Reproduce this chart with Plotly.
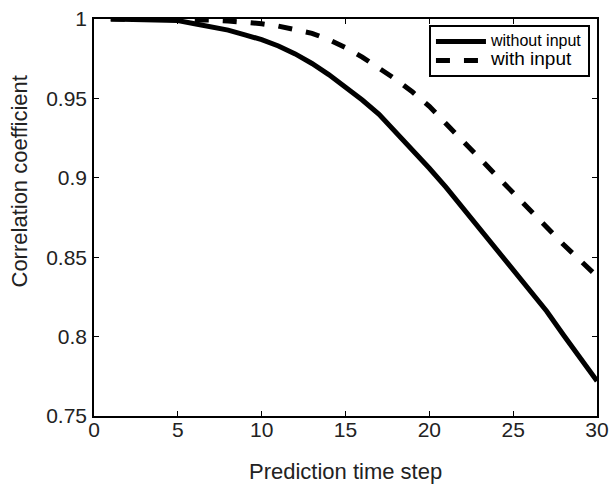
import plotly.graph_objects as go

steps = list(range(1, 31))
without_input = [1.0, 0.9999, 0.9998, 0.9995, 0.999, 0.997, 0.995, 0.993, 0.990, 0.987,
                 0.983, 0.978, 0.972, 0.965, 0.957, 0.949, 0.940, 0.929, 0.918, 0.906,
                 0.894, 0.881, 0.868, 0.854, 0.841, 0.829, 0.816, 0.801, 0.787, 0.772]
with_input = [1.0, 1.0, 0.9999, 0.9998, 0.9997, 0.9995, 0.9993, 0.9988, 0.998, 0.997,
              0.9955, 0.9935, 0.991, 0.987, 0.982, 0.976, 0.969, 0.962, 0.954, 0.945,
              0.934, 0.923, 0.912, 0.901, 0.890, 0.879, 0.868, 0.858, 0.848, 0.838]

x_ticks = [0, 5, 10, 15, 20, 25, 30]
y_ticks = [0.75, 0.8, 0.85, 0.9, 0.95, 1.0]
y_tick_labels = ["0.75", "0.8", "0.85", "0.9", "0.95", "1"]

FONT = "Liberation Sans, Arial, Helvetica, sans-serif"

fig = go.Figure()
fig.add_trace(go.Scatter(
    x=steps, y=without_input, mode="lines",
    name='<span style="font-size:16px">without input</span>',
    line=dict(color="black", width=5),
))
fig.add_trace(go.Scatter(
    x=steps, y=with_input, mode="lines",
    name='<span style="font-size:19px">with input</span>',
    line=dict(color="black", width=5, dash="14px,14px"),
))

axis_common = dict(
    showgrid=False, zeroline=False, showline=True, linecolor="black", linewidth=1.5,
    mirror="allticks", ticks="inside", ticklen=5, tickwidth=1, tickcolor="black",
    tickfont=dict(family=FONT, size=21, color="#222"),
)
fig.update_xaxes(range=[0, 30], tickvals=x_ticks, ticklabelstandoff=-6, **axis_common)
fig.update_yaxes(range=[0.75, 1.0], tickvals=y_ticks, ticktext=y_tick_labels,
                 ticklabelstandoff=1, **axis_common)

fig.update_layout(
    width=612, height=486,
    margin=dict(l=94, r=15, t=19, b=70, pad=0, autoexpand=False),
    paper_bgcolor="white", plot_bgcolor="white",
    showlegend=True,
    legend=dict(
        x=0.986, y=0.985, xanchor="right", yanchor="top",
        bgcolor="white", bordercolor="black", borderwidth=2,
        font=dict(family=FONT, size=11, color="black"),
        itemwidth=50, tracegroupgap=0,
    ),
    annotations=[
        dict(text="Correlation coefficient", textangle=-90, showarrow=False,
             xref="paper", yref="paper", x=(19 - 94) / 503, y=(416 - 181.5) / 397,
             xanchor="center", yanchor="middle",
             font=dict(family=FONT, size=22, color="#222")),
        dict(text="Prediction time step", showarrow=False,
             xref="paper", yref="paper", x=0.5, y=(416 - 471) / 397,
             xanchor="center", yanchor="middle",
             font=dict(family=FONT, size=22, color="#222")),
    ],
)

fig.write_html(
    "out.html",
    config={"displayModeBar": False},
    post_script="document.body.style.margin='0';document.body.style.overflow='hidden';",
)
